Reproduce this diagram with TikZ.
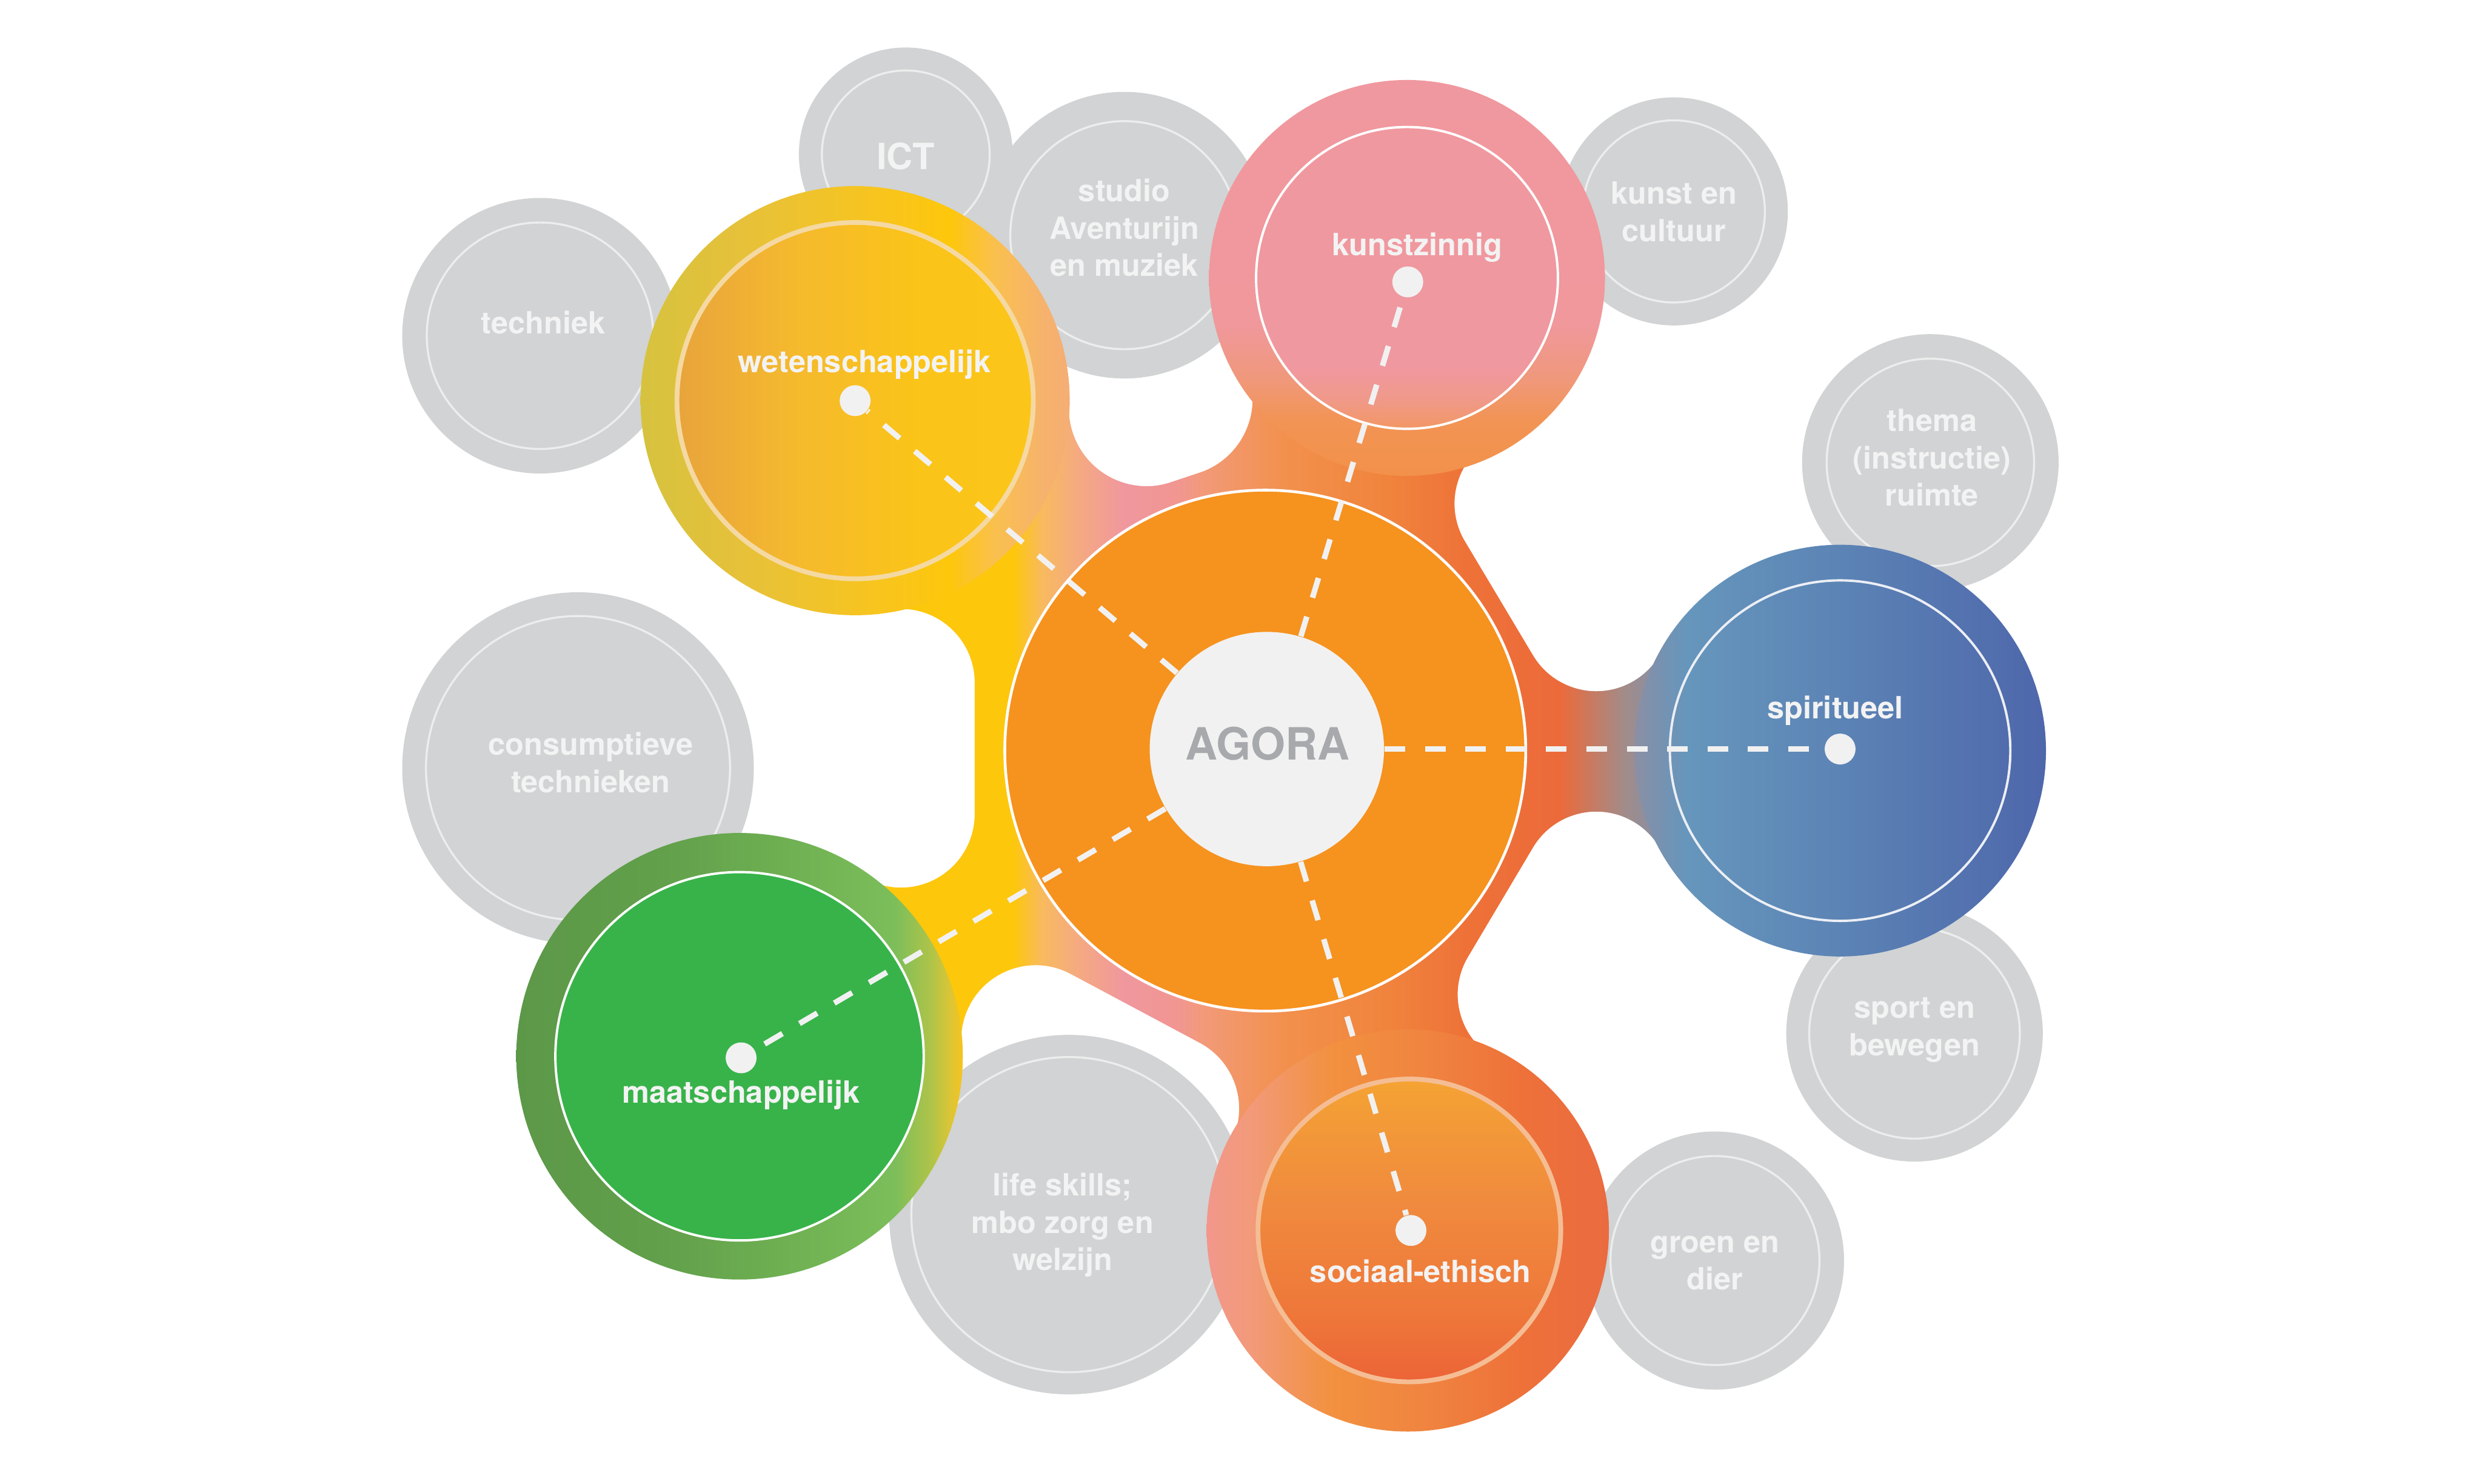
\documentclass[tikz,border=0pt]{standalone}
\usepackage{fontspec}
\setmainfont{TeX Gyre Heros}
\usetikzlibrary{calc}

\definecolor{bubblegray}{HTML}{D1D3D4}
\definecolor{ringgray}{HTML}{ECEDED}
\definecolor{labelwhite}{HTML}{F3F3F3}
\definecolor{hubwhite}{HTML}{F1F1F1}
\definecolor{hubtext}{HTML}{A7A9AC}
\definecolor{agoraorange}{HTML}{F6921E}
\definecolor{maatgreen}{HTML}{38B34A}
\definecolor{wetring}{HTML}{F5D9A2}
\definecolor{spirring}{HTML}{ECEFF5}
\definecolor{socring}{HTML}{F5BD94}

% blob colours
\definecolor{blobA}{HTML}{FDC70C}
\definecolor{blobB}{HTML}{F8BA5E}
\definecolor{blobC}{HTML}{F5AC7D}
\definecolor{blobD}{HTML}{F0979F}
\definecolor{blobE}{HTML}{F19690}
\definecolor{blobF}{HTML}{F29A78}
\definecolor{blobG}{HTML}{F2904B}
\definecolor{blobH}{HTML}{F0843D}
\definecolor{blobI}{HTML}{EE7238}
\definecolor{blobJ}{HTML}{EC6A3A}
\definecolor{blobK}{HTML}{A38B88}
\definecolor{blobL}{HTML}{8A90A4}
\definecolor{blobM}{HTML}{6A95BA}
\definecolor{blobN}{HTML}{6497BD}

% domain colours
\definecolor{wetA}{HTML}{D6C23F}
\definecolor{wetB}{HTML}{E7C13A}
\definecolor{wetC}{HTML}{F9C51C}
\definecolor{wetD}{HTML}{FDC70B}
\definecolor{wetE}{HTML}{FAC04E}
\definecolor{wetF}{HTML}{F6B36C}
\definecolor{wetG}{HTML}{F5AD74}
\definecolor{wetinA}{HTML}{E8A43C}
\definecolor{wetinB}{HTML}{F5B92E}
\definecolor{wetinC}{HTML}{FBC418}
\definecolor{wetinD}{HTML}{FCC51A}
\definecolor{kunstA}{HTML}{F2914A}
\definecolor{kunstB}{HTML}{F29455}
\definecolor{kunstC}{HTML}{F0987A}
\definecolor{kunstD}{HTML}{F0989C}
\definecolor{kunstE}{HTML}{F0989F}
\definecolor{kunstinA}{HTML}{F29764}
\definecolor{kunstinB}{HTML}{F0998A}
\definecolor{spirA}{HTML}{8C8FA3}
\definecolor{spirB}{HTML}{7592B2}
\definecolor{spirC}{HTML}{6696BC}
\definecolor{spirD}{HTML}{5C84B5}
\definecolor{spirE}{HTML}{4E67AB}
\definecolor{socA}{HTML}{F2978B}
\definecolor{socB}{HTML}{F29A7A}
\definecolor{socC}{HTML}{F2913F}
\definecolor{socD}{HTML}{F08440}
\definecolor{socE}{HTML}{EE7139}
\definecolor{socF}{HTML}{EA6B40}
\definecolor{socinA}{HTML}{EC6437}
\definecolor{socinB}{HTML}{EE7739}
\definecolor{socinC}{HTML}{F08A3E}
\definecolor{socinD}{HTML}{F4A035}
\definecolor{socinE}{HTML}{F5A433}
\definecolor{maatA}{HTML}{5C9848}
\definecolor{maatB}{HTML}{62A04B}
\definecolor{maatC}{HTML}{73B555}
\definecolor{maatD}{HTML}{7CBE5A}
\definecolor{maatE}{HTML}{B0C448}
\definecolor{maatF}{HTML}{DCC535}
\definecolor{maatG}{HTML}{F6C41E}

\pgfdeclarehorizontalshading{blobshade}{100bp}{color(0bp)=(blobA); color(37.45bp)=(blobA);
  color(38.74bp)=(blobB); color(40.18bp)=(blobC); color(42.48bp)=(blobD); color(45bp)=(blobE);
  color(46.08bp)=(blobF); color(49.96bp)=(blobG); color(54.35bp)=(blobH); color(57.95bp)=(blobI);
  color(62.26bp)=(blobJ); color(65.14bp)=(blobK); color(66.58bp)=(blobL); color(67.66bp)=(blobM);
  color(70.54bp)=(blobN); color(100bp)=(blobN)}
\pgfdeclarehorizontalshading{wetout}{100bp}{color(0bp)=(wetA); color(25bp)=(wetA); color(37.1bp)=(wetB);
  color(53.7bp)=(wetC); color(61.1bp)=(wetD); color(66.2bp)=(wetE); color(71.7bp)=(wetF);
  color(75bp)=(wetG); color(100bp)=(wetG)}
\pgfdeclarehorizontalshading{wetin}{100bp}{color(0bp)=(wetinA); color(25bp)=(wetinA); color(41.1bp)=(wetinB);
  color(58.9bp)=(wetinC); color(75bp)=(wetinD); color(100bp)=(wetinD)}
\pgfdeclareverticalshading{kunstout}{100bp}{color(0bp)=(kunstA); color(25bp)=(kunstA); color(32.1bp)=(kunstB);
  color(37.1bp)=(kunstC); color(44.1bp)=(kunstD); color(75bp)=(kunstE); color(100bp)=(kunstE)}
\pgfdeclareverticalshading{kunstin}{100bp}{color(0bp)=(kunstinA); color(25bp)=(kunstinA); color(29.9bp)=(kunstinB);
  color(35.2bp)=(kunstE); color(100bp)=(kunstE)}
\pgfdeclarehorizontalshading{spirout}{100bp}{color(0bp)=(spirA); color(25bp)=(spirA); color(28.5bp)=(spirB);
  color(31.3bp)=(spirC); color(49.6bp)=(spirD); color(75bp)=(spirE); color(100bp)=(spirE)}
\pgfdeclarehorizontalshading{socout}{100bp}{color(0bp)=(socA); color(25bp)=(socA); color(30.5bp)=(socB);
  color(40.4bp)=(socC); color(52.2bp)=(socD); color(64bp)=(socE); color(75bp)=(socF); color(100bp)=(socF)}
\pgfdeclareverticalshading{socin}{100bp}{color(0bp)=(socinA); color(25bp)=(socinA); color(36.1bp)=(socinB);
  color(54.4bp)=(socinC); color(72.8bp)=(socinD); color(75bp)=(socinE); color(100bp)=(socinE)}
\pgfdeclarehorizontalshading{maatout}{100bp}{color(0bp)=(maatA); color(25bp)=(maatA); color(41.7bp)=(maatB);
  color(59.4bp)=(maatC); color(67.4bp)=(maatD); color(71.5bp)=(maatE); color(73.6bp)=(maatF);
  color(75bp)=(maatG); color(100bp)=(maatG)}

\begin{document}
\begin{tikzpicture}[x=0.02cm, y=-0.02cm,
    lbl/.style={font=\fontsize{11}{13.4}\selectfont\bfseries, text=labelwhite, align=center, anchor=base, inner sep=0},
    bubble/.style={fill=bubblegray},
    bubblering/.style={draw=ringgray, line width=0.026cm},
    hubdot/.style={circle, fill=hubwhite, inner sep=0, minimum size=0.39cm},
    dashlink/.style={draw=hubwhite, line width=0.07cm, dash pattern=on 0.26cm off 0.25cm}]

    % Canvas
    \fill[white] (0,0) rectangle (1568,937);
    \useasboundingbox (0,0) rectangle (1568,937);

    % Gray side domains (labels sit on the baseline of their last line)
    \fill[bubble] (341,212) circle[radius=87];
    \draw[bubblering] (341,212) circle[radius=71.5];
    \node[lbl] (techniek) at (343,210.6) {techniek};

    \fill[bubble] (572,97.5) circle[radius=67.5];
    \draw[bubblering] (572,97.5) circle[radius=53];
    \node[lbl, font=\fontsize{13}{13}\selectfont\bfseries] (ict) at (572,106.8) {ICT};

    \fill[bubble] (710,148.5) circle[radius=90.5];
    \draw[bubblering] (710,148.5) circle[radius=72];
    \node[lbl] (studio) at (710,174.5) {studio\\Aventurijn\\en muziek};

    \fill[bubble] (1057,133.5) circle[radius=72];
    \draw[bubblering] (1057,133.5) circle[radius=57.5];
    \node[lbl] (kunstcult) at (1057,152.5) {kunst en\\cultuur};

    \fill[bubble] (1219,292) circle[radius=81];
    \draw[bubblering] (1219,292) circle[radius=65.5];
    \node[lbl] (thema) at (1220,319.5) {thema\\(instructie)\\ruimte};

    \fill[bubble] (365,485) circle[radius=111];
    \draw[bubblering] (365,485) circle[radius=96];
    \node[lbl] (consumptief) at (373,500.5) {consumptieve\\technieken};

    \fill[bubble] (1209,652.5) circle[radius=81];
    \draw[bubblering] (1209,652.5) circle[radius=66.5];
    \node[lbl] (sport) at (1209,666.5) {sport en\\bewegen};

    \fill[bubble] (675,767) circle[radius=113.5];
    \draw[bubblering] (675,767) circle[radius=99.5];
    \node[lbl] (lifeskills) at (671,802.3) {life skills;\\mbo zorg en\\welzijn};

    \fill[bubble] (1083,796) circle[radius=81.5];
    \draw[bubblering] (1083,796) circle[radius=66];
    \node[lbl] (groen) at (1083,814.5) {groen en\\dier};

    % Connecting blob, with the rounded notches cut out
    \begin{scope}[even odd rule]
      \clip (0,0) rectangle (1568,937)
        (522.5,431) arc[start angle=180, delta angle=180, radius=46.5]
          -- (615.5,514) arc[start angle=0, delta angle=180, radius=46.5] -- cycle
        ($(724,258)+(71.6:49)$) arc[start angle=71.6, delta angle=180, radius=49]
          -- ($(742,252)+(-108.4:49)$) arc[start angle=-108.4, delta angle=180, radius=49] -- cycle
        ($(965,318)+(149.2:46.5)$) arc[start angle=149.2, delta angle=180, radius=46.5]
          -- ($(1008,390)+(-30.8:46.5)$) arc[start angle=-30.8, delta angle=180, radius=46.5] -- cycle
        ($(1008,559)+(210.7:46.5)$) arc[start angle=210.7, delta angle=180, radius=46.5]
          -- ($(967,628)+(30.7:46.5)$) arc[start angle=30.7, delta angle=180, radius=46.5] -- cycle
        ($(654,656.5)+(118.1:47)$) arc[start angle=118.1, delta angle=180, radius=47]
          -- ($(735.5,700)+(-61.9:47)$) arc[start angle=-61.9, delta angle=180, radius=47] -- cycle;
      \shade[shading=blobshade] (540,253) -- (724,258) -- (742,252) -- (888.5,175.5) -- (965,318)
        -- (1008,390) -- (1162,474) -- (1008,559) -- (967,628) -- (889,777) -- (735.5,700)
        -- (654,656.5) -- (467,667) -- (569,514) -- (569,431) -- cycle;
    \end{scope}

    % Wetenschappelijk
    \shade[shading=wetout] (540,253) circle[radius=135.5];
    \shade[shading=wetin] (540,253) circle[radius=112.5];
    \draw[wetring, line width=0.06cm] (540,253) circle[radius=112.5];

    % Kunstzinnig
    \shade[shading=kunstout] (888.5,175.5) circle[radius=125];
    \shade[shading=kunstin] (888.5,175.5) circle[radius=95.3];
    \draw[white, line width=0.03cm] (888.5,175.5) circle[radius=95.3];

    % Spiritueel
    \shade[shading=spirout] (1162,474) circle[radius=130];
    \draw[spirring, line width=0.03cm] (1162,474) circle[radius=107.5];

    % Sociaal-ethisch
    \shade[shading=socout] (889,777) circle[radius=127];
    \shade[shading=socin] (890,777) circle[radius=95.6];
    \draw[socring, line width=0.06cm] (890,777) circle[radius=95.6];

    % Maatschappelijk
    \shade[shading=maatout] (467,667) circle[radius=141];
    \fill[maatgreen] (467,667) circle[radius=116.3];
    \draw[white, line width=0.03cm] (467,667) circle[radius=116.3];

    % Agora
    \fill[agoraorange] (799,474) circle[radius=165];
    \draw[white, line width=0.035cm] (799,474) circle[radius=164.5];
    \node[circle, fill=hubwhite, minimum size=2.96cm, inner sep=0] (agora) at (800,473) {};
    \node[font=\fontsize{16}{16}\selectfont\bfseries, text=hubtext, anchor=base, inner sep=0] (agoralbl) at (800.5,480) {AGORA};

    % Domain centres
    \node[hubdot] (wetdot) at (540,253) {};
    \node[hubdot] (kunstdot) at (889,178) {};
    \node[hubdot] (spirdot) at (1162,473) {};
    \node[hubdot] (socdot) at (891,777) {};
    \node[hubdot] (maatdot) at (468,668) {};

    % Dashed links
    \draw[dashlink] (agora) -- (wetdot);
    \draw[dashlink] (agora) -- (kunstdot);
    \draw[dashlink] (agora) -- (spirdot);
    \draw[dashlink] (agora) -- (socdot);
    \draw[dashlink] (agora) -- (maatdot);

    % Domain labels
    \node[lbl] (wetlbl) at (546,235.2) {wetenschappelijk};
    \node[lbl] (kunstlbl) at (895,161.5) {kunstzinnig};
    \node[lbl] (spirlbl) at (1159,454) {spiritueel};
    \node[lbl] (soclbl) at (897,809.9) {sociaal-ethisch};
    \node[lbl] (maatlbl) at (468,696.7) {maatschappelijk};
\end{tikzpicture}
\end{document}
